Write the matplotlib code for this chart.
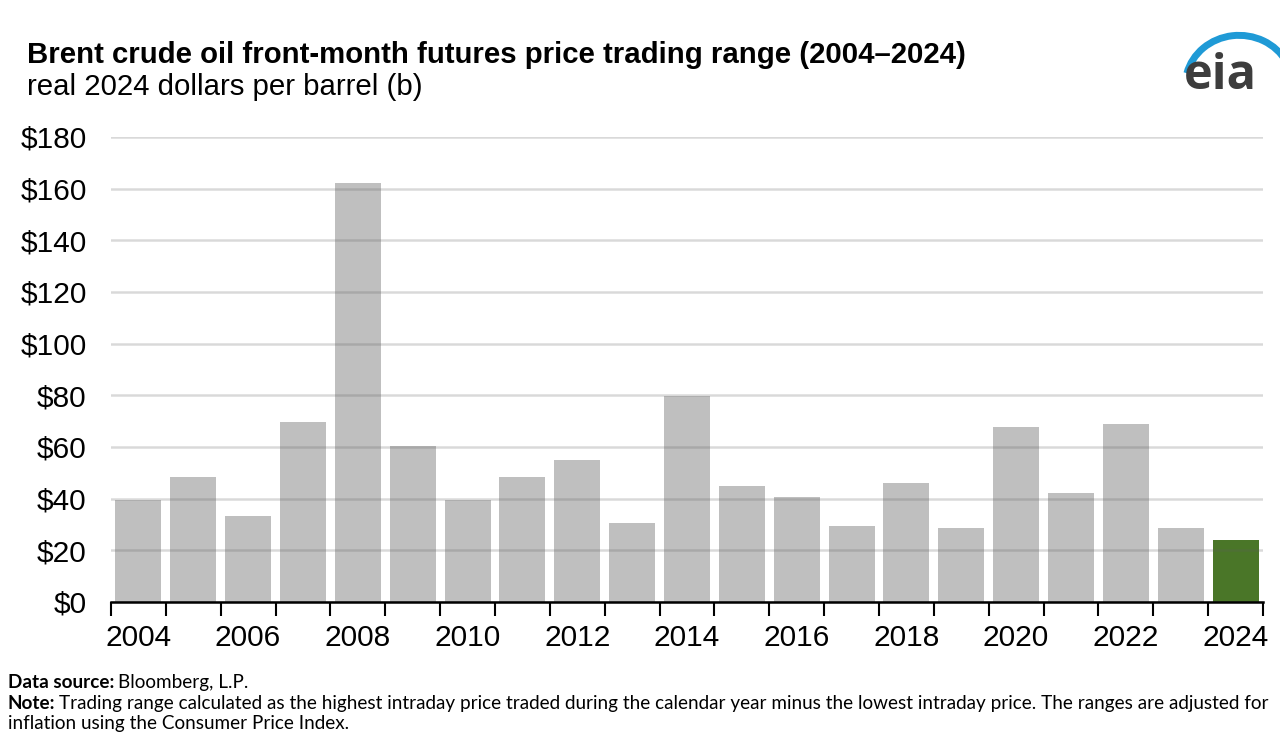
import matplotlib
matplotlib.use("Agg")
import matplotlib.pyplot as plt
from matplotlib.patches import Arc
import numpy as np

# values (real 2024 dollars per barrel)
years = list(range(2004, 2025))
trading_range = [39.5, 48.5, 33.3, 69.7, 162.2, 60.2, 39.5, 48.5, 54.8, 30.4,
                 79.8, 44.7, 40.5, 29.3, 46.2, 28.5, 67.6, 42.0, 69.0, 28.5, 23.8]
ytick_vals = [0, 20, 40, 60, 80, 100, 120, 140, 160, 180]
label_years = [2004, 2006, 2008, 2010, 2012, 2014, 2016, 2018, 2020, 2022, 2024]

plt.rcParams['font.family'] = ['Liberation Sans', 'DejaVu Sans']

fig = plt.figure(figsize=(12.8, 7.44), dpi=100)
ax = fig.add_axes([0.0867, 0.1909, 0.9, 0.625])

colors = ['#bfbfbf'] * (len(years) - 1) + ['#4a7628']
ax.bar(years, trading_range, width=0.84, color=colors, zorder=1)

ax.set_ylim(0, 180)
ax.set_xlim(years[0] - 0.5, years[-1] + 0.5)
ax.set_yticks(ytick_vals)
ax.set_yticklabels(['$%d' % v for v in ytick_vals])
ax.yaxis.grid(True, color='#5d5d5d', alpha=0.23, linewidth=1.8, zorder=3)
ax.set_axisbelow(False)

# ticks at bar boundaries, labels at bar centres
ax.set_xticks([y - 0.5 for y in years] + [years[-1] + 0.5])
ax.set_xticklabels([])
ax.set_xticks(label_years, minor=True)
ax.set_xticklabels([str(y) for y in label_years], minor=True)
ax.tick_params(axis='x', which='major', length=10, width=1.5, color='black')
ax.tick_params(axis='x', which='minor', length=0, pad=16, labelsize=21.5)
ax.tick_params(axis='y', length=0, pad=17.5, labelsize=21.5)

for s in ['top', 'right', 'left']:
    ax.spines[s].set_visible(False)
ax.spines['bottom'].set_linewidth(1.8)
ax.spines['bottom'].set_zorder(5)

fig.text(0.021, 0.926, 'Brent crude oil front-month futures price trading range (2004\u20132024)',
         fontsize=21.2, fontweight='bold', va='center', ha='left')
fig.text(0.021, 0.883, 'real 2024 dollars per barrel (b)', fontsize=21.2,
         va='center', ha='left')

# footer: bold lead-in followed by normal text
foot = ['Lato', 'DejaVu Sans']
fsize = 13.6
renderer = fig.canvas.get_renderer()

def footer_line(y, bold, rest):
    x0 = 0.006
    if bold:
        t = fig.text(x0, y, bold, fontsize=fsize, fontweight='bold', family=foot, va='center')
        w = t.get_window_extent(renderer=renderer).width / fig.bbox.width
        x0 = x0 + w + 0.003
    fig.text(x0, y, rest, fontsize=fsize, family=foot, va='center')

footer_line(0.083, 'Data source:', 'Bloomberg, L.P.')
footer_line(0.055, 'Note:', 'Trading range calculated as the highest intraday price traded during the calendar '
            'year minus the lowest intraday price. The ranges are adjusted for')
footer_line(0.028, None, 'inflation using the Consumer Price Index.')

# eia logo
fig.text(0.9535, 0.897, 'eia', fontsize=35, color='#3d3d3d', ha='center', va='center',
         family=['Open Sans', 'DejaVu Sans'], fontweight='bold')
lax = fig.add_axes([0.92, 0.87, 0.08, 0.1])
lax.set_xlim(0, 1)
lax.set_ylim(0, 1)
lax.axis('off')
lax.add_patch(Arc((0.6, 0.15), 1.05, 1.35, theta1=35, theta2=162, color='#1f9ad6', linewidth=5))

fig.savefig('out.png', dpi=100)
